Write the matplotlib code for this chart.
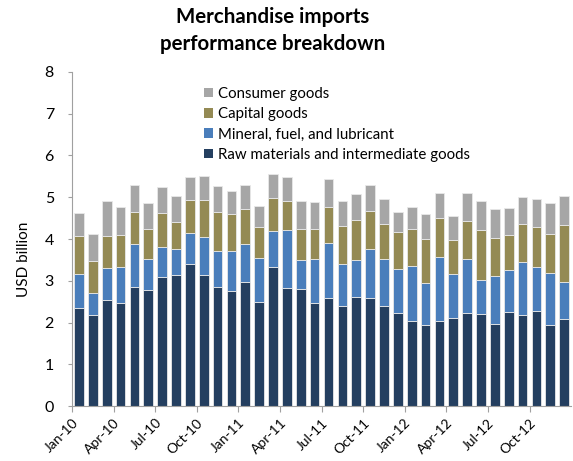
import numpy as np
import matplotlib

matplotlib.use("Agg")
import matplotlib.pyplot as plt
from matplotlib.patches import Patch

plt.rcParams["font.family"] = ["Lato", "DejaVu Sans"]

# Monthly imports, Jan-10 .. Dec-12 (USD billion)
months = ["Jan-10", "Apr-10", "Jul-10", "Oct-10", "Jan-11", "Apr-11",
          "Jul-11", "Oct-11", "Jan-12", "Apr-12", "Jul-12", "Oct-12"]

raw = [2.34, 2.19, 2.54, 2.47, 2.86, 2.79, 3.10, 3.13, 3.41, 3.14, 2.86, 2.76,
       2.98, 2.50, 3.32, 2.82, 2.80, 2.48, 2.59, 2.40, 2.62, 2.60, 2.40, 2.23,
       2.04, 1.95, 2.04, 2.12, 2.22, 2.21, 1.97, 2.25, 2.19, 2.27, 1.95, 2.09]
# cumulative tops of each segment
top_mineral = [3.17, 2.71, 3.31, 3.34, 3.89, 3.52, 3.81, 3.77, 4.15, 4.05, 3.72, 3.72,
               3.89, 3.54, 4.19, 4.22, 3.49, 3.53, 3.90, 3.40, 3.50, 3.75, 3.53, 3.28,
               3.36, 2.94, 3.58, 3.17, 3.51, 3.02, 3.12, 3.26, 3.46, 3.34, 3.19, 2.98]
top_capital = [4.08, 3.48, 4.08, 4.10, 4.65, 4.25, 4.62, 4.41, 4.93, 4.94, 4.65, 4.61,
               4.72, 4.29, 4.99, 4.92, 4.25, 4.25, 4.77, 4.31, 4.46, 4.68, 4.37, 4.16,
               4.24, 4.01, 4.51, 3.98, 4.44, 4.22, 4.03, 4.09, 4.37, 4.29, 4.13, 4.34]
top_consumer = [4.62, 4.13, 4.92, 4.76, 5.30, 4.87, 5.25, 5.04, 5.48, 5.52, 5.26, 5.16,
                5.30, 4.78, 5.55, 5.49, 4.90, 4.88, 5.43, 4.90, 5.07, 5.30, 4.96, 4.65,
                4.76, 4.60, 5.11, 4.54, 5.10, 4.92, 4.72, 4.74, 5.01, 4.96, 4.86, 5.03]

raw = np.array(raw)
mineral = np.array(top_mineral) - raw
capital = np.array(top_capital) - np.array(top_mineral)
consumer = np.array(top_consumer) - np.array(top_capital)

NAVY = "#243f60"
BLUE = "#4a7ebb"
OLIVE = "#948a54"
GRAY = "#a6a6a6"
AXIS = "#a0a0a0"

fig = plt.figure(figsize=(5.73, 4.61), dpi=100)
ax = fig.add_axes([0.1257, 0.119, 0.871, 0.725])

x = np.arange(len(raw))
w = 0.7
kw = dict(width=w, edgecolor="#e8e8e8", linewidth=0.6)
ax.bar(x, raw, color=NAVY, **kw)
ax.bar(x, mineral, bottom=raw, color=BLUE, **kw)
ax.bar(x, capital, bottom=raw + mineral, color=OLIVE, **kw)
ax.bar(x, consumer, bottom=raw + mineral + capital, color=GRAY, **kw)

ax.set_xlim(-0.5, len(raw) - 0.5)
ax.set_ylim(0, 8)
ax.set_yticks(range(0, 9))
ax.tick_params(axis="y", labelsize=11.5, length=3, pad=10, color=AXIS)
tick_pos = np.arange(0, len(raw), 3) - 0.5
ax.set_xticks(tick_pos)
ax.set_xticklabels(months, rotation=45, ha="right", rotation_mode="anchor", fontsize=10)
ax.tick_params(axis="x", length=4, color=AXIS)
ax.set_ylabel("USD billion", fontsize=11, labelpad=10)
ax.yaxis.set_label_coords(-0.082, 0.44)

for s in ("top", "right"):
    ax.spines[s].set_visible(False)
for s in ("left", "bottom"):
    ax.spines[s].set_color(AXIS)

fig.text(0.475, 0.985, "Merchandise imports\nperformance breakdown", ha="center", va="top",
         fontsize=14.8, fontweight="bold", linespacing=1.45)

handles = [Patch(facecolor=GRAY, label="Consumer goods"),
           Patch(facecolor=OLIVE, label="Capital goods"),
           Patch(facecolor=BLUE, label="Mineral, fuel, and lubricant"),
           Patch(facecolor=NAVY, label="Raw materials and intermediate goods")]
ax.legend(handles=handles, loc="upper left", bbox_to_anchor=(0.235, 1.0), frameon=False,
          fontsize=10.8, handlelength=0.6, handleheight=0.6, handletextpad=0.3,
          labelspacing=0.42, borderaxespad=0.6)

fig.savefig("out.png", dpi=100)
